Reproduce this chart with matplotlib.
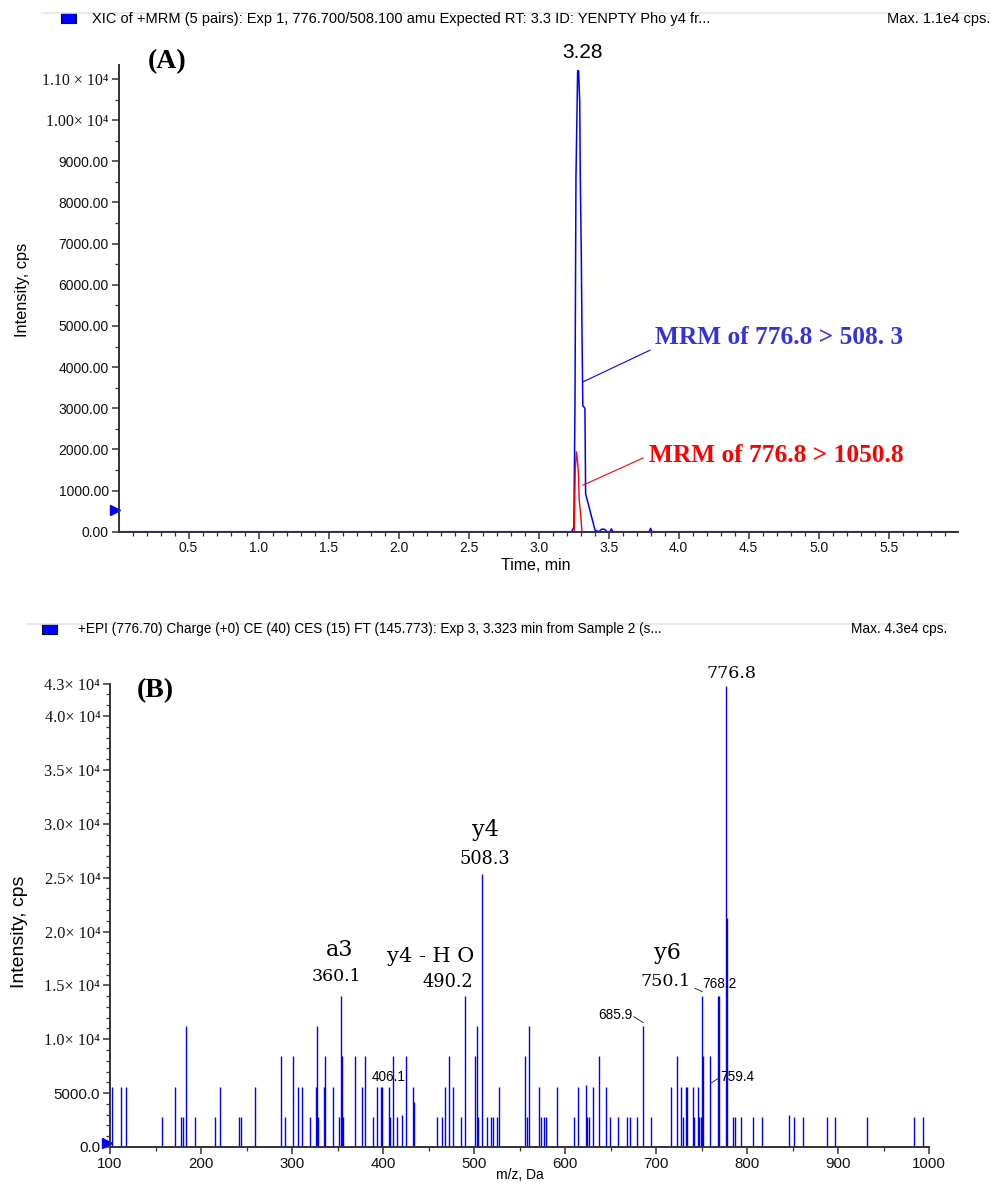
import numpy as np
import matplotlib
matplotlib.use("Agg")
import matplotlib.pyplot as plt
from matplotlib.patches import Rectangle
from matplotlib.transforms import blended_transform_factory

plt.rcParams['font.family'] = ['Liberation Sans', 'DejaVu Sans']

W, H = 1003, 1184

# ---- panel A: XIC traces ----
xic_blue_t = [0.0, 3.236, 3.245, 3.252, 3.260, 3.267, 3.279, 3.286, 3.294, 3.298,
              3.305, 3.310, 3.316, 3.331, 3.336, 3.403, 3.43, 3.45, 3.47, 3.49,
              3.51, 3.52, 3.53, 3.79, 3.80, 3.81, 6.0]
xic_blue_i = [0, 0, 60, 120, 3060, 8600, 11200, 11200, 10420, 8600,
              6750, 4880, 3060, 3000, 920, 40, 0, 60, 60, 0,
              0, 70, 0, 0, 80, 0, 0]
xic_red_t = [0.0, 3.255, 3.262, 3.270, 3.277, 3.285, 3.290, 3.300, 3.310, 6.0]
xic_red_i = [0, 0, 1500, 1940, 1750, 1400, 770, 450, 0, 0]

a_yticks = [0, 1000, 2000, 3000, 4000, 5000, 6000, 7000, 8000, 9000, 10000, 11000]
a_yticklabels = ['0.00', '1000.00', '2000.00', '3000.00', '4000.00', '5000.00',
                 '6000.00', '7000.00', '8000.00', '9000.00', '1.00× 10⁴', '1.10 × 10⁴']
a_xticks = [0.5, 1.0, 1.5, 2.0, 2.5, 3.0, 3.5, 4.0, 4.5, 5.0, 5.5]

# ---- panel B: EPI spectrum ----
mz = [101.8, 111.8, 117.7, 157.1, 171.8, 177.6, 180.2, 183.9, 193.7, 215.7,
      220.5, 242.1, 243.6, 259.6, 287.5, 292.3, 300.7, 306.5, 310.9, 319.7,
      326.0, 327.1, 328.5, 334.8, 336.2, 344.6, 351.9, 353.4, 354.5, 356.3,
      369.5, 376.9, 379.8, 388.6, 393.0, 397.7, 398.8, 406.1, 407.6, 410.5,
      414.9, 420.7, 425.1, 432.4, 433.9, 458.8, 464.7, 467.6, 472.0, 476.4,
      485.2, 490.0, 501.3, 502.8, 504.2, 508.6, 514.5, 518.9, 520.3, 524.7,
      527.6, 555.4, 558.4, 559.8, 571.8, 573.5, 576.5, 579.3, 590.7, 609.7,
      614.1, 622.9, 624.3, 625.8, 630.2, 637.5, 644.9, 649.3, 658.0, 668.3,
      671.2, 678.6, 685.9, 694.7, 716.7, 722.5, 726.9, 729.8, 732.8, 734.2,
      740.1, 741.5, 745.9, 747.4, 748.9, 750.3, 751.8, 759.1, 767.5, 769.0,
      776.7, 778.2, 784.0, 787.0, 792.8, 806.0, 816.3, 845.6, 851.4, 861.7,
      888.0, 896.8, 931.9, 983.2, 993.4]
intensity = [5600, 5600, 5600, 2800, 5600, 2800, 2800, 11200, 2800, 2800,
             5600, 2800, 2800, 5600, 8400, 2800, 8400, 5600, 5600, 2800,
             5600, 11200, 2800, 5600, 8400, 5600, 2800, 14000, 8400, 2800,
             8400, 5600, 8400, 2800, 5600, 5600, 5600, 5600, 2800, 8400,
             2800, 3000, 8400, 5600, 4200, 2800, 2800, 5600, 8400, 5600,
             2800, 14000, 8400, 11200, 2800, 25300, 2800, 2800, 2800, 2800,
             5600, 8400, 2800, 11200, 5600, 2800, 2800, 2800, 5600, 2800,
             5600, 5800, 2800, 2800, 5600, 8400, 5600, 2800, 2800, 2800,
             2800, 2800, 11200, 2800, 5600, 8400, 5600, 2800, 5600, 5600,
             5600, 2800, 5600, 2800, 2800, 14000, 8400, 8400, 14000, 14000,
             42800, 21300, 2800, 2800, 2800, 2800, 2800, 3000, 2800, 2800,
             2800, 2800, 2800, 2800, 2800]

b_yticks = [0, 5000, 10000, 15000, 20000, 25000, 30000, 35000, 40000, 43000]
b_yticklabels = ['0.0', '5000.0', '1.0× 10⁴', '1.5× 10⁴', '2.0× 10⁴', '2.5× 10⁴',
                 '3.0× 10⁴', '3.5× 10⁴', '4.0× 10⁴', '4.3× 10⁴']
b_xticks = [100, 200, 300, 400, 500, 600, 700, 800, 900, 1000]

# big fragment labels (text, m/z, intensity, size)
frag_labels = [('a3', 352.7, 18280, 16), ('360.1', 349.0, 15800, 12.5),
               ('y4 - H O', 452.4, 17660, 15), ('490.2', 470.8, 15340, 12.8),
               ('y4', 512.7, 29420, 16), ('508.3', 512.0, 26700, 12.8),
               ('y6', 712.2, 17980, 16), ('750.1', 710.6, 15340, 12.6),
               ('776.8', 783.0, 43990, 12.6)]
# small auto labels (text, m/z, intensity)
small_labels = [('406.1', 405.8, 6520), ('685.9', 655.5, 12250),
                ('768.2', 768.8, 15100), ('759.4', 789.0, 6520)]

BLUE = '#0000ff'
SERIF = ['Liberation Serif', 'DejaVu Serif']
CAMBRIA = ['DejaVu Serif']


def px(x, y):
    return x / W, 1 - y / H


def style_axes(ax, tick_size, sci_size):
    for s in ['top', 'right']:
        ax.spines[s].set_visible(False)
    for s in ['left', 'bottom']:
        ax.spines[s].set_linewidth(1.4)
        ax.spines[s].set_color('#333333')
    ax.tick_params(which='major', direction='out', length=5, width=1.1,
                   labelsize=tick_size, colors='#333333', labelcolor='#111111', pad=2)
    ax.tick_params(which='minor', direction='out', length=3, width=0.9, colors='#333333')
    for lab in ax.get_yticklabels():
        if '×' in lab.get_text():
            lab.set_family(SERIF)
            lab.set_fontsize(sci_size)


def header(y_line, x0, x1, sq_x, text_x, text, max_text, size):
    fig.add_artist(plt.Line2D([x0 / W, x1 / W], [1 - y_line / H] * 2,
                              color='#e6e6e6', lw=1.2))
    fig.add_artist(Rectangle(px(sq_x, y_line + 10), 15 / W, 10 / H,
                             facecolor=BLUE, edgecolor='#000033', lw=0.8))
    fig.text(*px(text_x, y_line + 5.5), text, fontsize=size, va='center', ha='left')
    fig.text(*px(x1, y_line + 5.5), max_text, fontsize=size, va='center', ha='right')


fig = plt.figure(figsize=(W / 100, H / 100), dpi=100)

# ---------------- panel A ----------------
axA = fig.add_axes([118.6 / W, 1 - 531.7 / H, 839.4 / W, 466.7 / H])
axA.plot(xic_blue_t, xic_blue_i, color=BLUE, lw=1.1)
axA.plot(xic_red_t, xic_red_i, color='#ff0000', lw=1.0)
axA.set_xlim(0, 5.996)
axA.set_ylim(0, 11340)
axA.set_yticks(a_yticks)
axA.set_yticklabels(a_yticklabels)
axA.set_yticks(np.arange(500, 11340, 1000), minor=True)
axA.set_xticks(a_xticks)
axA.set_xticks(np.arange(0.1, 6.0, 0.1), minor=True)
style_axes(axA, 10, 11.4)

axA.text(3.317, 11640, '3.28', fontsize=15, ha='center', va='center', clip_on=False)
axA.plot([3.317, 3.796], [3640, 4410], color=BLUE, lw=0.8)
axA.plot([3.317, 3.746], [1130, 1790], color='#ff0000', lw=0.8)
axA.text(3.83, 4710, 'MRM of 776.8 > 508. 3', color='#3333dd', fontsize=18.3,
         fontweight='bold', family=SERIF, ha='left', va='center')
axA.text(3.79, 1860, 'MRM of 776.8 > 1050.8', color='#ff0000', fontsize=18.3,
         fontweight='bold', family=SERIF, ha='left', va='center')
trA = blended_transform_factory(axA.transAxes, axA.transData)
axA.plot([-0.004], [530], marker='>', color=BLUE, markersize=7, transform=trA, clip_on=False)

fig.text(*px(167, 62), '(A)', fontsize=20, fontweight='bold', family=SERIF,
         ha='center', va='center')
fig.text(*px(23, 290), 'Intensity, cps', fontsize=11.8, rotation=90, ha='center', va='center')
fig.text(*px(536, 565), 'Time, min', fontsize=11.5, ha='center', va='center')
header(13, 42, 990, 61, 92,
       'XIC of +MRM (5 pairs): Exp 1, 776.700/508.100 amu Expected RT: 3.3 ID: YENPTY Pho y4 fr...',
       'Max. 1.1e4 cps.', 10.5)

# ---------------- panel B ----------------
axB = fig.add_axes([110 / W, 1 - 1147 / H, 819.3 / W, 463.3 / H])
axB.vlines(mz, 0, intensity, color=BLUE, lw=1.0)
axB.set_xlim(100, 1000)
axB.set_ylim(0, 43000)
axB.set_yticks(b_yticks)
axB.set_yticklabels(b_yticklabels)
axB.set_yticks(np.arange(1000, 43000, 1000), minor=True)
axB.set_xticks(b_xticks)
axB.set_xticks(np.arange(150, 1000, 100), minor=True)
style_axes(axB, 10.8, 11.7)

for txt, x, y, fs in frag_labels:
    axB.text(x, y, txt, fontsize=fs, family=CAMBRIA, ha='center', va='center', clip_on=False)
for txt, x, y in small_labels:
    axB.text(x, y, txt, fontsize=9.8, ha='center', va='center')
axB.plot([675.6, 685.8], [12090, 11540], color='#333333', lw=0.7)
axB.plot([742.6, 750.7], [14730, 14410], color='#333333', lw=0.7)
axB.plot([759.9, 768.3], [5910, 6380], color='#333333', lw=0.7)
trB = blended_transform_factory(axB.transAxes, axB.transData)
axB.plot([-0.004], [400], marker='>', color=BLUE, markersize=7, transform=trB, clip_on=False)

fig.text(*px(155, 691), '(B)', fontsize=20, fontweight='bold', family=SERIF,
         ha='center', va='center')
fig.text(*px(20, 932), 'Intensity, cps', fontsize=14, rotation=90, ha='center', va='center')
fig.text(*px(520, 1175), 'm/z, Da', fontsize=10, ha='center', va='center')
header(624, 27, 947, 42, 78,
       '+EPI (776.70) Charge (+0) CE (40) CES (15) FT (145.773): Exp 3, 3.323 min from Sample 2 (s...',
       'Max. 4.3e4 cps.', 9.8)

fig.savefig('out.png', dpi=100)
